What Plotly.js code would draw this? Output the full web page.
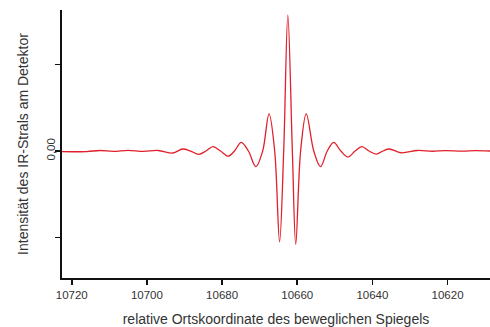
<!DOCTYPE html>
<html>
<head>
<meta charset="utf-8">
<script src="https://cdn.plot.ly/plotly-3.0.1.min.js"></script>
<style>html,body{margin:0;padding:0;background:#fff;}#chart{width:490px;height:327px;}</style>
</head>
<body>
<div id="chart"></div>
<script>
// mirror position (relative units) and detector intensity
var position = [10722.6, 10716, 10712.5, 10709, 10705, 10701, 10697, 10693.1, 10690.5, 10688.4,
  10686.2, 10684.3, 10682.4, 10680.4, 10678.4, 10676.7, 10674.9, 10673, 10671, 10669.2,
  10667.5, 10666.0, 10664.7, 10663.6, 10662.5, 10661.3, 10660.4, 10659.1, 10657.6, 10655.6,
  10653.8, 10652, 10650.3, 10648.4, 10646.5, 10644.6, 10642.8, 10640.9, 10639.0, 10637.2,
  10635.5, 10632.4, 10628, 10624, 10620.6, 10616, 10612.6, 10608.7];
var intensity = [-0.008, -0.006, 0.006, -0.004, 0.008, -0.004, 0.006, -0.023, 0.023, 0,
  -0.038, 0, 0.05, 0, -0.06, 0, 0.10, 0, -0.18, 0,
  0.43, 0, -1.05, 0, 1.57, 0, -1.08, 0, 0.43, 0,
  -0.18, 0, 0.10, 0, -0.07, 0, 0.05, 0, -0.035, 0,
  0.023, -0.02, 0.006, -0.003, 0.005, -0.002, 0.005, 0];
var xTicks = [10720, 10700, 10680, 10660, 10640, 10620];
var yTicks = [-1, 0, 1];
var yTickText = ['', '0,00', ''];

var trace = {
  x: position, y: intensity, type: 'scatter', mode: 'lines',
  line: {color: '#e0202a', width: 1.3, shape: 'spline', smoothing: 1},
  hoverinfo: 'none'
};
var layout = {
  width: 490, height: 327,
  margin: {l: 62, r: 0, t: 10, b: 49},
  paper_bgcolor: '#fff', plot_bgcolor: '#fff',
  showlegend: false,
  font: {family: 'Liberation Sans, Arial, sans-serif', color: '#333'},
  xaxis: {
    range: [10722.6, 10608.7], autorange: false,
    tickvals: xTicks, ticktext: xTicks.map(String),
    ticks: 'outside', ticklen: 5, tickwidth: 1.5, tickcolor: '#111',
    showline: true, linecolor: '#111', linewidth: 2,
    showgrid: false, zeroline: false,
    tickfont: {size: 11.5, color: '#333'},
    title: {text: 'relative Ortskoordinate des beweglichen Spiegels', font: {size: 14, color: '#333'}, standoff: 16}
  },
  yaxis: {
    range: [-1.468, 1.630], autorange: false,
    tickvals: yTicks, ticktext: yTickText, tickangle: -90,
    ticks: 'outside', ticklen: 5, tickwidth: 1.5, tickcolor: '#111',
    showline: true, linecolor: '#111', linewidth: 2,
    showgrid: false, zeroline: false, ticklabelstandoff: -5,
    tickfont: {size: 11.5, color: '#333'},
    title: {text: 'Intensität des IR-Strals am Detektor', font: {size: 14, color: '#333'}, standoff: 14}
  }
};
Plotly.newPlot('chart', [trace], layout, {staticPlot: true, displayModeBar: false});
</script>
</body>
</html>
